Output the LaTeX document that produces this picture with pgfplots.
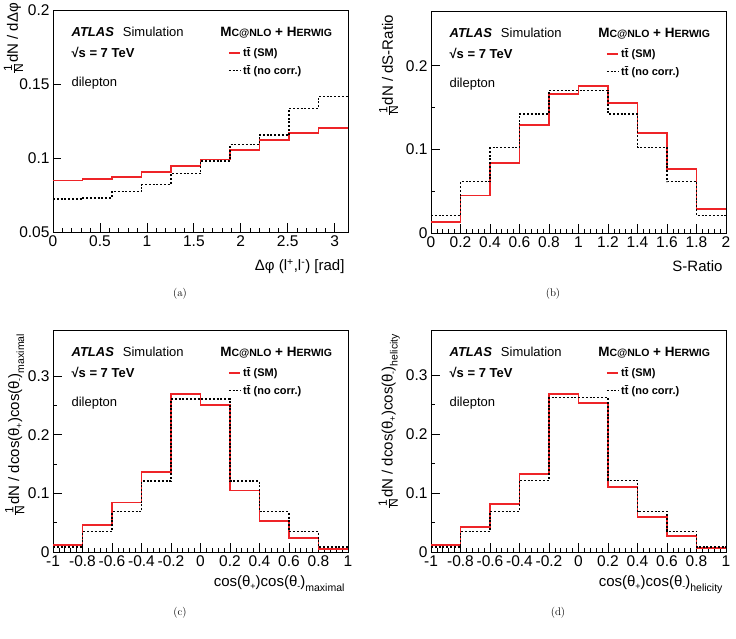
\documentclass[border=0pt]{standalone}
\usepackage{fontspec}
\setsansfont{Liberation Sans}
\usepackage{pgfplots}
\pgfplotsset{compat=1.18}
\usepackage{pgfplotstable}

\definecolor{smred}{RGB}{238,36,40}
\newcommand{\fs}[1]{\fontsize{#1}{#1}\selectfont}
\newcommand{\ttbar}{t\={t}}
\newcommand{\invN}{$\frac{\mbox{\fs{12}1}}{\mbox{\fs{12}N}}$}
\newcommand{\lo}[2]{\raisebox{-#1}{\fs{9}#2}}

% normalised distributions: left bin edge, SM spin correlation, no correlation
\pgfplotstableread{
x sm nc
0        0.0849 0.0724
0.314159 0.0858 0.0731
0.628319 0.0871 0.0774
0.942478 0.0905 0.0821
1.256637 0.0946 0.0894
1.570796 0.0991 0.0980
1.884956 0.1057 0.1091
2.199115 0.1122 0.1156
2.513274 0.1170 0.1337
2.827433 0.1206 0.1419
3.141593 0.1206 0.1419
}\dphi

\pgfplotstableread{
x sm nc
0.0 0.0131 0.0210
0.2 0.0448 0.0615
0.4 0.0841 0.1020
0.6 0.1294 0.1425
0.8 0.1659 0.1702
1.0 0.1762 0.1706
1.2 0.1556 0.1425
1.4 0.1194 0.1020
1.6 0.0770 0.0615
1.8 0.0290 0.0210
2.0 0.0290 0.0210
}\sratio

\pgfplotstableread{
x sm nc
-1.0 0.0125 0.0085
-0.8 0.0454 0.0346
-0.6 0.0845 0.0686
-0.4 0.1370 0.1210
-0.2 0.2700 0.2610
0.0  0.2510 0.2610
0.2  0.1050 0.1210
0.4  0.0533 0.0686
0.6  0.0233 0.0346
0.8  0.0057 0.0085
1.0  0.0057 0.0085
}\cosmax

\pgfplotstableread{
x sm nc
-1.0 0.0124 0.0085
-0.8 0.0429 0.0350
-0.6 0.0812 0.0688
-0.4 0.1325 0.1218
-0.2 0.2680 0.2617
0.0  0.2530 0.2617
0.2  0.1105 0.1218
0.4  0.0587 0.0688
0.6  0.0271 0.0350
0.8  0.0068 0.0085
1.0  0.0068 0.0085
}\coshel

\pgfplotsset{
  atlas/.style={
    scale only axis, width=295pt, height=221.5pt, anchor=south west,
    axis line style={line width=0.9pt, black},
    tick pos=left, tick align=inside,
    major tick length=8.5pt, minor tick length=4.3pt,
    every tick/.style={line width=0.8pt, black},
    /pgf/number format/assume math mode=true,
    scaled ticks=false,
    tick label style={font=\sffamily\fs{15.5}},
    label style={font=\sffamily\fs{15}},
    xlabel style={at={(axis description cs:1,-0.176)}, anchor=base east},
    ylabel style={anchor=base east, rotate=0},
    legend style={at={(rel axis cs:0.592,0.842)}, anchor=north west,
      draw=none, fill=none, inner sep=0pt, row sep=3.5pt,
      font=\sffamily\bfseries\fs{11}},
    legend cell align=left,
    legend image code/.code={\draw[#1] (0pt,0pt) -- (11.5pt,0pt);},
  },
  smline/.style={const plot mark left, no marks, draw=smred, line width=1.9pt},
  ncline/.style={const plot mark left, no marks, draw=black, line width=1.3pt,
    dash pattern=on 2pt off 1.8pt},
}

% labels common to every panel
\newcommand{\panelinfo}{%
  \node[anchor=base west, font=\sffamily\fs{13}] at (rel axis cs:0.051,0.884)
    {\textbf{\textit{ATLAS}}\hspace{9pt}Simulation};
  \node[anchor=base west, font=\sffamily\bfseries\fs{13}] at (rel axis cs:0.051,0.79)
    {√s = 7 TeV};
  \node[anchor=base west, font=\sffamily\fs{13}] at (rel axis cs:0.051,0.656)
    {dilepton};
  \node[anchor=base west, font=\sffamily\bfseries\fs{13.5}] at (rel axis cs:0.555,0.884)
    {M{\fs{10.5}C@NLO} + H{\fs{10.5}ERWIG}};
}

\begin{document}
\begin{tikzpicture}
\useasboundingbox (0pt,0pt) rectangle (736pt,639pt);

% (a) azimuthal opening angle
\begin{axis}[atlas, at={(53pt,407pt)},
  xmin=0, xmax=3.141593, ymin=0.05, ymax=0.2,
  xtick={0,0.5,1,1.5,2,2.5,3}, xticklabels={0,0.5,1,1.5,2,2.5,3},
  minor x tick num=4,
  ytick={0.05,0.1,0.15,0.2}, yticklabels={0.05,0.1,0.15,0.2},
  xlabel={Δφ (l\textsuperscript{+},l\textsuperscript{-}) [rad]},
  ylabel={\invN dN / dΔφ},
  ylabel style={at={(axis description cs:-0.119,1.05)}}]
  \addplot[smline] table[x=x, y=sm] {\dphi};
  \addlegendentry{\ttbar{} (SM)}
  \addplot[ncline] table[x=x, y=nc] {\dphi};
  \addlegendentry{\ttbar{} (no corr.)}
  \panelinfo
\end{axis}

% (b) S-ratio
\begin{axis}[atlas, at={(431pt,406pt)},
  xmin=0, xmax=2, ymin=0, ymax=0.265,
  xtick={0,0.2,...,2.01}, xticklabels={0,0.2,0.4,0.6,0.8,1,1.2,1.4,1.6,1.8,2},
  minor x tick num=4,
  ytick={0,0.1,0.2}, yticklabels={0,0.1,0.2}, minor y tick num=1,
  xlabel={S-Ratio},
  ylabel={\invN dN / dS-Ratio},
  ylabel style={at={(axis description cs:-0.129,1.0)}}]
  \addplot[smline] table[x=x, y=sm] {\sratio};
  \addlegendentry{\ttbar{} (SM)}
  \addplot[ncline] table[x=x, y=nc] {\sratio};
  \addlegendentry{\ttbar{} (no corr.)}
  \panelinfo
\end{axis}

% (c) maximal basis
\begin{axis}[atlas, at={(53pt,87pt)},
  xmin=-1, xmax=1, ymin=0, ymax=0.378,
  xtick={-1,-0.8,...,1.01}, xticklabels={-1,-0.8,-0.6,-0.4,-0.2,0,0.2,0.4,0.6,0.8,1},
  minor x tick num=4,
  ytick={0,0.1,0.2,0.3}, yticklabels={0,0.1,0.2,0.3}, minor y tick num=1,
  xlabel style={at={(axis description cs:1,-0.158)}},
  xlabel={cos(θ\lo{3pt}{+})cos(θ\lo{3pt}{-})\raisebox{-5pt}{\fs{10.5}maximal}},
  ylabel={\invN dN / dcos(θ\lo{3pt}{+})cos(θ\lo{3pt}{-})\raisebox{-5pt}{\fs{10.5}maximal}},
  ylabel style={at={(axis description cs:-0.115,1.0)}}]
  \addplot[smline] table[x=x, y=sm] {\cosmax};
  \addlegendentry{\ttbar{} (SM)}
  \addplot[ncline] table[x=x, y=nc] {\cosmax};
  \addlegendentry{\ttbar{} (no corr.)}
  \panelinfo
\end{axis}

% (d) helicity basis
\begin{axis}[atlas, at={(431pt,87pt)},
  xmin=-1, xmax=1, ymin=0, ymax=0.376,
  xtick={-1,-0.8,...,1.01}, xticklabels={-1,-0.8,-0.6,-0.4,-0.2,0,0.2,0.4,0.6,0.8,1},
  minor x tick num=4,
  ytick={0,0.1,0.2,0.3}, yticklabels={0,0.1,0.2,0.3}, minor y tick num=1,
  xlabel style={at={(axis description cs:1,-0.158)}},
  xlabel={cos(θ\lo{3pt}{+})cos(θ\lo{3pt}{-})\raisebox{-5pt}{\fs{10.5}helicity}},
  ylabel={\invN dN / dcos(θ\lo{3pt}{+})cos(θ\lo{3pt}{-})\raisebox{-5pt}{\fs{10.5}helicity}},
  ylabel style={at={(axis description cs:-0.13,1.0)}}]
  \addplot[smline] table[x=x, y=sm] {\coshel};
  \addlegendentry{\ttbar{} (SM)}
  \addplot[ncline] table[x=x, y=nc] {\coshel};
  \addlegendentry{\ttbar{} (no corr.)}
  \panelinfo
\end{axis}

% sub-figure captions
\node[font=\rmfamily\fs{11}] at (180pt,345.5pt) {(a)};
\node[font=\rmfamily\fs{11}] at (553pt,345.5pt) {(b)};
\node[font=\rmfamily\fs{11}] at (180pt,26pt) {(c)};
\node[font=\rmfamily\fs{11}] at (558pt,26pt) {(d)};
\end{tikzpicture}
\end{document}
